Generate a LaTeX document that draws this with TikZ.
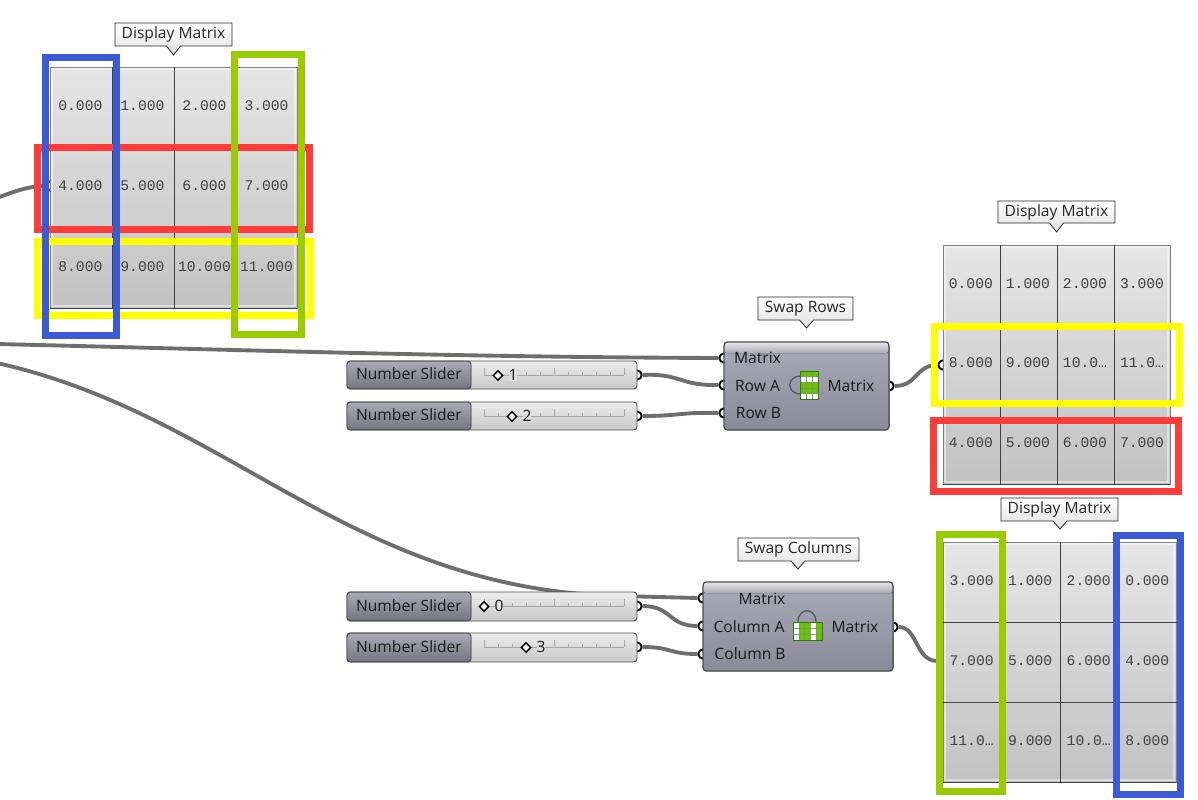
\documentclass[tikz,border=0pt]{standalone}
\usepackage{fontspec}
\setmainfont{Open Sans}
\setmonofont{Liberation Mono}
\usetikzlibrary{calc,shapes.geometric}
\definecolor{wire}{HTML}{6E6E6E}
\definecolor{myred}{HTML}{FF3B3B}
\definecolor{myyellow}{HTML}{FFFF00}
\definecolor{myblue}{HTML}{3B5BD5}
\definecolor{mygreen}{HTML}{99CC00}
\definecolor{compa}{HTML}{A9A9B7}
\definecolor{compb}{HTML}{8A8A98}
\definecolor{icongreen}{HTML}{66C400}
\definecolor{iconedge}{HTML}{357A10}
\tikzset{
    wirepath/.style={draw=wire, line width=2.9pt},
    band/.style={line width=5.25pt},
    body/.style={draw=black!50, line width=0.9pt, top color=black!10, bottom color=black!24},
    gridline/.style={draw=black!75, line width=0.6pt},
    value/.style={font=\ttfamily\fontsize{11}{12}\selectfont, text=black!75, inner sep=0pt},
    slot/.style={inner sep=0pt, font=\fontsize{11.7}{13}\selectfont, text=black!90},
    port/.style={circle, draw=black, fill=white, line width=1.4pt, minimum size=7pt, inner sep=0pt},
    dot/.style={diamond, draw=black, fill=white, line width=1.1pt, minimum size=7.5pt, inner sep=0pt},
}
% slider: name, top y, bottom y, position of the dot, value
\newcommand{\numslider}[5]{
    \draw[draw=black!70, line width=0.7pt, rounded corners=2.5pt, top color=black!7, bottom color=black!22] (347,#2) rectangle (637,#3);
    \fill[rounded corners=2.5pt, top color=compa, bottom color=compb!85!black] (347.5,{#2+0.5}) -- (471,{#2+0.5}) -- (471,{#3-0.5}) -- (347.5,{#3-0.5}) -- cycle;
    \draw[draw=black!70, line width=0.7pt, rounded corners=2.5pt] (471,#2) -- (347,#2) -- (347,#3) -- (471,#3) -- cycle;
    \node[slot] (#1label) at (409,{(#2+#3)/2-1}) {Number Slider};
    \draw[black!35, line width=0.4pt] (484,{#2+14}) -- (624,{#2+14});
    \foreach \t in {0,...,10}
        \draw[black!35, line width=0.4pt] ({484+14*\t},{#2+14}) -- ({484+14*\t},{#2+10.5});
    \foreach \t in {0,5,10}
        \draw[black!35, line width=0.4pt] ({484+14*\t},{#2+14}) -- ({484+14*\t},{#2+7});
    \node[inner sep=1pt, fill=black!13, slot] (#1val) at ({#4+15},{#2+14}) {#5};
    \node[dot] (#1dot) at (#4,{#2+14.5}) {};
}
% matrix: name, left, top, right, bottom, list of values
\newcommand{\dispmatrix}[6]{
    \node[body, anchor=north west, minimum width={(#4-#2)*0.75pt}, minimum height={(#5-#3)*0.75pt}, inner sep=0pt] (#1) at (#2,#3) {};
    \draw[white, opacity=0.45, line width=1.2pt] ({#2+2},{#3+2}) rectangle ({#4-2},{#5-2});
    \draw[black!75, line width=0.7pt] (#2,#5) -- (#4,#5);
    \foreach \k in {1,2,3} {
        \draw[gridline] ($(#1.north west)!\k/4!(#1.north east)$) -- ($(#1.south west)!\k/4!(#1.south east)$);
    }
    \foreach \k in {1,2} {
        \draw[gridline] ($(#1.north west)!\k/3!(#1.south west)$) -- ($(#1.north east)!\k/3!(#1.south east)$);
    }
    \foreach[count=\n from 0] \v in {#6} {
        \pgfmathtruncatemacro{\cx}{mod(\n,4)}
        \pgfmathtruncatemacro{\cy}{div(\n,4)}
        \node[value] (#1v\n) at ($(#1.north west)!{(\cx+0.5)/4}!(#1.north east)+(-0.5pt,{-(\cy+0.48)*(#5-#3)*0.75pt/3})$) {\v};
    }
}
% tooltip with its pointer: name, left, top, right, bottom, tip x, tip y, text
\newcommand{\tooltip}[8]{
    \draw[draw=black!85, line width=0.6pt, top color=white, bottom color=black!12] (#2,#3) -- (#4,#3) -- (#4,#5) -- ({#6+7},#5) -- (#6,#7) -- ({#6-7},#5) -- (#2,#5) -- cycle;
    \node[slot, text=black!85] (#1) at ({(#2+#4)/2},{(#3+#5)/2}) {#8};
}
% component: name, left, top, right, bottom
\newcommand{\compbox}[5]{
    \node[top color=compa, bottom color=compb, rounded corners=2.5pt, anchor=north west, minimum width={(#4-#2)*0.75pt}, minimum height={(#5-#3)*0.75pt}, inner sep=0pt] (#1) at (#2,#3) {};
    \fill[rounded corners=2pt, top color=black!9, bottom color=compa] (#2,#3) -- (#4,#3) -- (#4,{#3+11}) -- (#2,{#3+11}) -- cycle;
    \draw[black!70, line width=0.9pt, rounded corners=2.5pt] (#2,#3) rectangle (#4,#5);
}
\begin{document}
\begin{tikzpicture}[x=0.75pt, y=-0.75pt]
    \useasboundingbox (0,0) rectangle (1198,799);
    % free ends of the wires
    \coordinate (left1) at (-3,344);
    \coordinate (left2) at (-3,363);
    \coordinate (left3) at (-3,198);

    % ports, half hidden by the boxes
    \foreach \n/\px/\py in {inA/50/186, inB/943/365, inC/943/661,
        rowM/724/358, rowA/724/385, rowB/724/413, rowO/889/386,
        colM/703/598, colA/703/626, colB/703/654, colO/893/627,
        sa/637/375, sb/637/416, sc/637/606, sd/637/647}
        \node[port] (\n) at (\px,\py) {};

    % wires first, the boxes cover them
    \draw[wirepath] (left3) .. controls (15,191) and (30,186) .. (inA.west);
    \draw[wirepath] (left1) .. controls (250,350) and (450,357) .. (rowM.west);
    \draw[wirepath] (left2) .. controls (230,415) and (350,590) .. (620,596) -- (colM.west);
    \draw[wirepath] (sa.east) .. controls (680,373) and (680,386) .. (rowA.west);
    \draw[wirepath] (sb.east) .. controls (680,416) and (680,412) .. (rowB.west);
    \draw[wirepath] (sc.east) .. controls (672,606) and (668,626) .. (colA.west);
    \draw[wirepath] (sd.east) .. controls (672,647) and (668,654) .. (colB.west);
    \draw[wirepath] (rowO.east) .. controls (918,386) and (915,365) .. (inB.west);
    \draw[wirepath] (colO.east) .. controls (918,627) and (915,661) .. (inC.west);

    \dispmatrix{matA}{50}{67}{297}{308}{0.000,1.000,2.000,3.000,4.000,5.000,6.000,7.000,8.000,9.000,10.000,11.000}
    \dispmatrix{matB}{943}{245}{1170}{484}{0.000,1.000,2.000,3.000,8.000,9.000,10.0…,11.0…,4.000,5.000,6.000,7.000}
    \dispmatrix{matC}{943}{542}{1176}{782}{3.000,1.000,2.000,0.000,7.000,5.000,6.000,4.000,11.0…,9.000,10.0…,8.000}

    \tooltip{tipA}{115}{23}{232}{46}{173.5}{55}{Display Matrix}
    \tooltip{tipB}{998}{201}{1115}{223}{1056.5}{232}{Display Matrix}
    \tooltip{tipC}{1001}{498}{1118}{521}{1060}{529}{Display Matrix}
    \tooltip{tipR}{758}{297}{853}{320}{806.5}{328}{Swap Rows}
    \tooltip{tipS}{738}{538}{859}{561}{798}{569}{Swap Columns}

    \numslider{ska}{361}{389}{498}{1}
    \numslider{skb}{402}{430}{512}{2}
    \numslider{skc}{592}{621}{484}{0}
    \numslider{skd}{633}{662}{526}{3}

    % swap rows
    \compbox{swapR}{724}{342}{889}{430}
    \node[slot] (rM) at (757.5,357.5) {Matrix};
    \node[slot] (rA) at (757.5,385.5) {Row A};
    \node[slot] (rB) at (758.5,413) {Row B};
    \node[slot] (rO) at (851,385.5) {Matrix};
    % swap columns
    \compbox{swapC}{703}{582}{893}{671}
    \node[slot] (cM) at (762,598.5) {Matrix};
    \node[slot] (cA) at (749,626.5) {Column A};
    \node[slot] (cB) at (750,654) {Column B};
    \node[slot] (cO) at (855,626.5) {Matrix};

    % icons
    \draw[black!65, line width=1pt] (801,376) .. controls (786,376) and (786,394) .. (801,394);
    \fill[icongreen] (800,371) rectangle (818,399);
    \fill[white] (800,376.6) rectangle (818,382.2);
    \fill[white] (800,393.4) rectangle (818,399);
    \foreach \i in {1,2,3,4} \draw[iconedge!70, line width=0.3pt] (800,{371+5.6*\i}) -- (818,{371+5.6*\i});
    \foreach \i in {1,2} \draw[iconedge!70, line width=0.3pt] ({800+6*\i},371) -- ({800+6*\i},399);
    \draw[iconedge, line width=0.7pt] (800,371) rectangle (818,399);

    \draw[black!65, line width=1pt] (798,622) .. controls (798,607) and (816,607) .. (816,622);
    \fill[icongreen] (793,622) rectangle (822,640);
    \fill[white] (793,622) rectangle (798.8,640);
    \fill[white] (810.4,622) rectangle (816.2,640);
    \foreach \i in {1,2} \draw[iconedge!70, line width=0.3pt] (793,{622+6*\i}) -- (822,{622+6*\i});
    \foreach \i in {1,2,3,4} \draw[iconedge!70, line width=0.3pt] ({793+5.8*\i},622) -- ({793+5.8*\i},640);
    \draw[iconedge, line width=0.7pt] (793,622) rectangle (822,640);

    % bands
    \draw[band, myyellow] (37.5,241.5) rectangle (310.5,315.5);
    \draw[band, myred] (37.5,147.5) rectangle (309.5,229.5);
    \draw[band, myblue] (45.5,57.5) rectangle (116.5,335.5);
    \draw[band, mygreen] (234.5,54.5) rectangle (301.5,334.5);
    \draw[band, myyellow] (934.5,326.5) rectangle (1179.5,403.5);
    \draw[band, myred] (933.5,420.5) rectangle (1178.5,491.5);
    \draw[band, mygreen] (939.5,534.5) rectangle (1002.5,791.5);
    \draw[band, myblue] (1116.5,535.5) rectangle (1180.5,794.5);
\end{tikzpicture}
\end{document}
